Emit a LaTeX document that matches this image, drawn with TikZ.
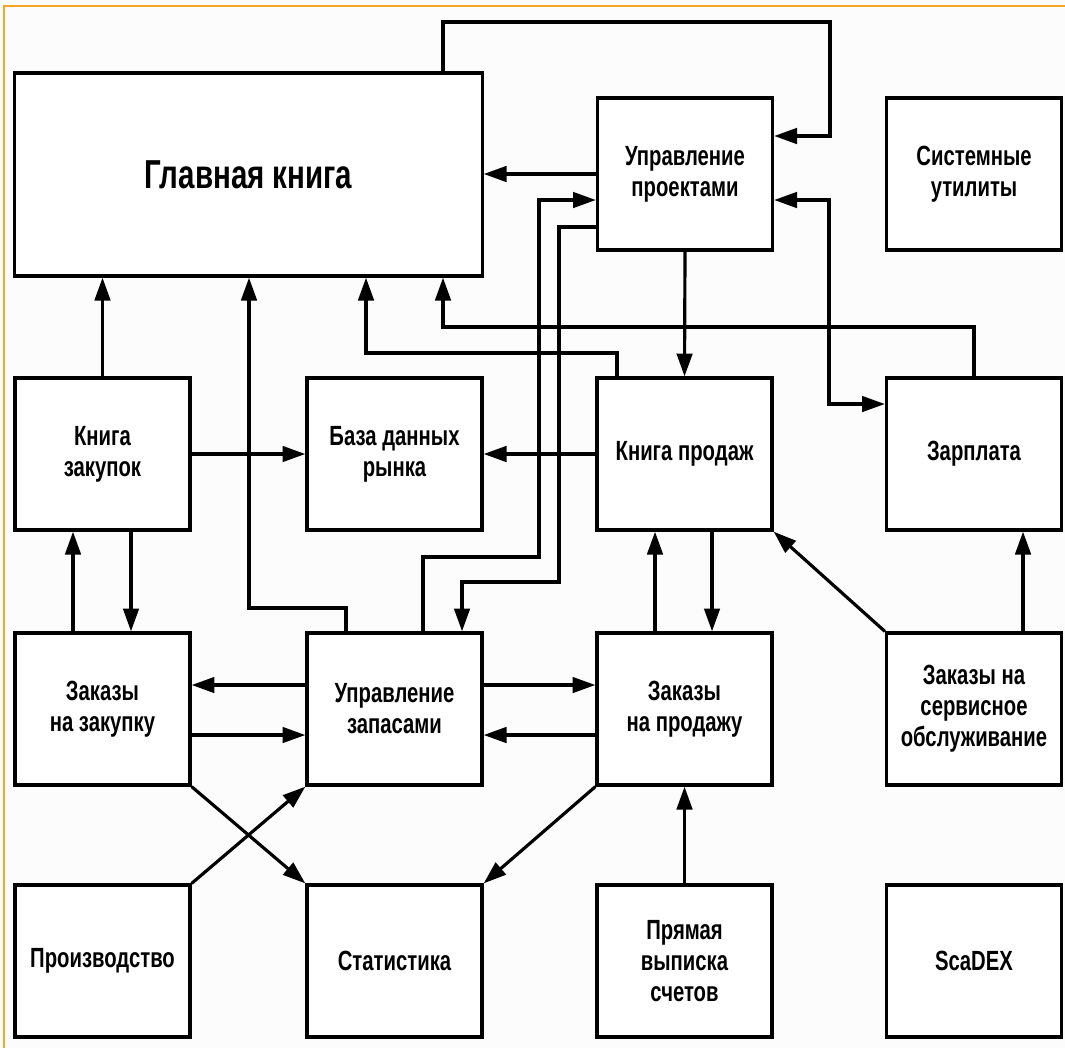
\documentclass[tikz,border=0pt]{standalone}
\usepackage{fontspec}
\setmainfont[FakeStretch=0.73]{Liberation Sans}
\usetikzlibrary{arrows.meta}

\definecolor{frame}{RGB}{245,166,35}
\definecolor{paper}{RGB}{252,252,252}

\begin{document}
\begin{tikzpicture}[x=0.01cm, y=-0.01cm,
		box/.style={draw, fill=white, line width=0.9pt, minimum width=1.75cm, minimum height=1.52cm,
			align=center, font=\fontsize{7.9}{8.8}\selectfont\bfseries},
		arr/.style={line width=0.9pt, -{Triangle[length=6.5pt,width=4.4pt]}}]
			\useasboundingbox[fill=paper] (0,0) rectangle (1065,1048);
			\draw[frame, line width=0.6pt] (1065,6) -- (4,6) -- (4,1048);

			\node[box, minimum width=4.67cm, minimum height=2.03cm, font=\fontsize{11.5}{13}\selectfont\bfseries] (gl) at (248.5,174.5) {Главная книга};
			\node[box] (up) at (685,174) {Управление\\проектами};
			\node[box] (su) at (974,174) {Системные\\утилиты};

			\node[box] (kz) at (102.5,454) {Книга\\закупок};
			\node[box] (bd) at (394.5,454) {База данных\\рынка};
			\node[box] (kp) at (684.5,454) {Книга продаж};
			\node[box] (zp) at (974,454) {Зарплата};

			\node[box] (znz) at (102.5,709) {Заказы\\на закупку};
			\node[box] (uz) at (394.5,709) {Управление\\запасами};
			\node[box] (znp) at (684.5,709) {Заказы\\на продажу};
			\node[box] (zso) at (974,709) {Заказы на\\сервисное\\обслуживание};

			\node[box] (pr) at (102.5,961) {Производство};
			\node[box] (st) at (394.5,961) {Статистика};
			\node[box] (pv) at (684.5,961) {Прямая\\выписка\\счетов};
			\node[box] (sc) at (974,961) {ScaDEX};

			\draw[arr] (443,0 |- gl.north) -- (443,22) -| (830,136) -- (up.east |- 0,136);
			\draw[arr] (up.west) -- (gl.east |- up.west);
			\draw[arr] (423,0 |- uz.north) |- (539,557) |- (up.west |- 0,200);
			\draw[arr] (up.west |- 0,227) -| (559,582) -| (462,0 |- uz.north);
			\draw[arr] (up.south) -- (kp.north);
			\draw[arr, {Triangle[length=6.5pt,width=4.4pt]}-{Triangle[length=6.5pt,width=4.4pt]}] (up.east |- 0,200) -| (829,404) -- (zp.west |- 0,404);

			\draw[arr] (kz.north) -- (kz.north |- gl.south);
			\draw[arr] (346,0 |- uz.north) |- (249,608) -- (249,0 |- gl.south);
			\draw[arr] (617,0 |- kp.north) |- (366,353) -- (366,0 |- gl.south);
			\draw[arr] (zp.north) |- (443,327) -- (443,0 |- gl.south);

			\draw[arr] (kz.east) -- (bd.west);
			\draw[arr] (kp.west) -- (bd.east);

			\draw[arr] (73,0 |- znz.north) -- (73,0 |- kz.south);
			\draw[arr] (131,0 |- kz.south) -- (131,0 |- znz.north);
			\draw[arr] (655,0 |- znp.north) -- (655,0 |- kp.south);
			\draw[arr] (712,0 |- kp.south) -- (712,0 |- znp.north);
			\draw[arr] (zso.north west) -- (kp.south east);
			\draw[arr] (1023,0 |- zso.north) -- (1023,0 |- zp.south);

			\draw[arr] (uz.west |- 0,685) -- (znz.east |- 0,685);
			\draw[arr] (znz.east |- 0,735) -- (uz.west |- 0,735);
			\draw[arr] (uz.east |- 0,685) -- (znp.west |- 0,685);
			\draw[arr] (znp.west |- 0,735) -- (uz.east |- 0,735);

			\draw[arr] (znz.south east) -- (st.north west);
			\draw[arr] (pr.north east) -- (uz.south west);
			\draw[arr] (znp.south west) -- (st.north east);
			\draw[arr] (pv.north) -- (znp.south);
		\end{tikzpicture}
\end{document}
